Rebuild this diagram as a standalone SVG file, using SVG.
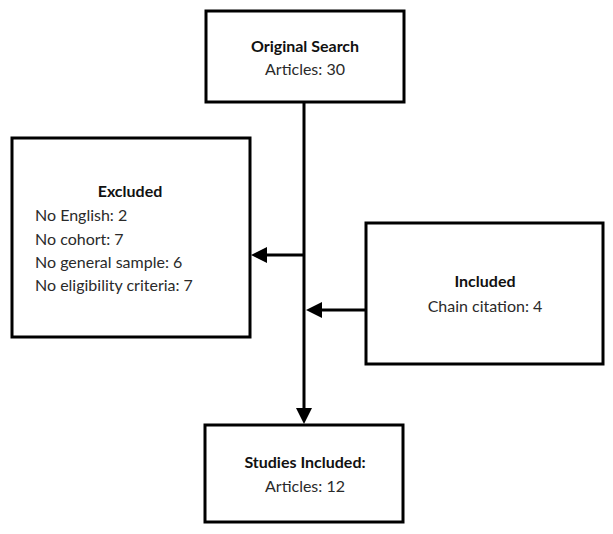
<svg xmlns="http://www.w3.org/2000/svg" width="613" height="534" viewBox="0 0 613 534">
<style>
.box{fill:#fff;stroke:#000;stroke-width:3}
.t{font-family:Lato,"Liberation Sans",sans-serif;font-size:16px;fill:#2a2a2a}
.b{font-weight:bold;fill:#111}
.c{stroke:#000;stroke-width:3;fill:none}
.h{fill:#000}
</style>
<rect width="613" height="534" fill="#fff"/>
<g id="connectors">
<line class="c" x1="304" y1="102" x2="304" y2="410"/>
<path class="h" d="M296,408 L312,408 L304,424 z"/>
<line class="c" x1="304" y1="255" x2="265" y2="255"/>
<path class="h" d="M267,247 L267,263 L251,255 z"/>
<line class="c" x1="366" y1="310" x2="320" y2="310"/>
<path class="h" d="M322,302 L322,318 L306,310 z"/>
</g>
<g id="original-search">
<rect class="box" x="206" y="11" width="198" height="91"/>
<text class="t b" x="305" y="52" text-anchor="middle">Original Search</text>
<text class="t" x="305" y="75" text-anchor="middle">Articles: 30</text>
</g>
<g id="excluded">
<rect class="box" x="12" y="138" width="238" height="199"/>
<text class="t b" x="130" y="197" text-anchor="middle">Excluded</text>
<text class="t" x="35" y="221">No English: 2</text>
<text class="t" x="35" y="245">No cohort: 7</text>
<text class="t" x="35" y="268">No general sample: 6</text>
<text class="t" x="35" y="291">No eligibility criteria: 7</text>
</g>
<g id="included">
<rect class="box" x="366" y="223" width="237" height="141"/>
<text class="t b" x="485" y="287" text-anchor="middle">Included</text>
<text class="t" x="485" y="312" text-anchor="middle">Chain citation: 4</text>
</g>
<g id="studies-included">
<rect class="box" x="205" y="425" width="198" height="97"/>
<text class="t b" x="305" y="468" text-anchor="middle">Studies Included:</text>
<text class="t" x="305" y="492" text-anchor="middle">Articles: 12</text>
</g>
</svg>
